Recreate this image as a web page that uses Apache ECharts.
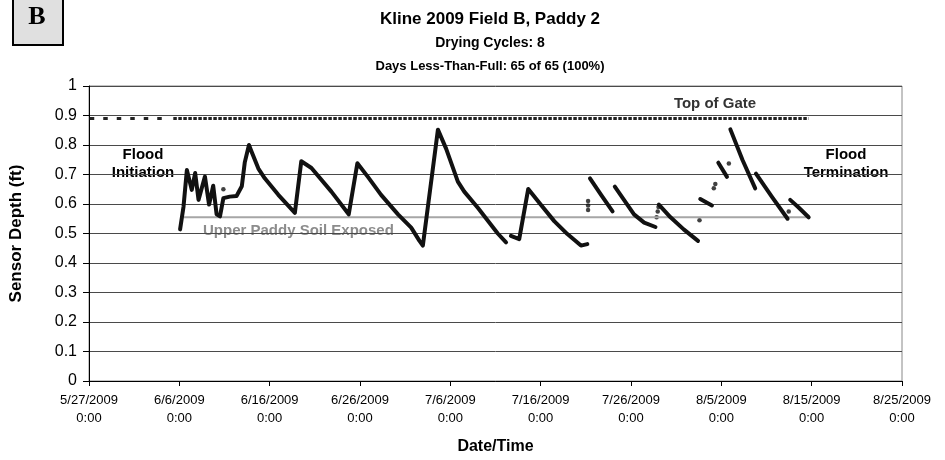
<!DOCTYPE html>
<html>
<head>
<meta charset="utf-8">
<script src="https://cdn.jsdelivr.net/npm/echarts/dist/echarts.min.js"></script>
<style>
  html, body { margin: 0; padding: 0; background: #fff; }
  #chart { width: 945px; height: 460px; }
</style>
</head>
<body>
<div id="chart"></div>
<script>
  // sensor readings (null = gap in the record)
  const sensorTimes = [
    '6/6 02:00', '6/6 11:00', '6/6 20:00', '6/7 09:00', '6/7 18:00', '6/8 03:00', '6/8 20:00',
    '6/9 07:00', '6/9 18:00', '6/10 03:00', '6/10 12:00', '6/10 21:00', '6/11 14:00', '6/12 08:00',
    '6/12 22:00', '6/13 06:00', '6/13 17:00', '6/14 00:00', '6/14 18:00', '6/15 11:00', '6/16 23:00',
    '6/18 19:00', '6/19 12:00', '6/20 15:00', '6/22 20:00', '6/24 18:00', '6/25 17:00', '6/26 21:00',
    '6/28 08:00', '6/30 05:00', '7/1 16:00', '7/2 14:00', '7/2 23:00', '7/4 15:00', '7/5 13:00',
    '7/6 20:00', '7/7 13:00', '7/9 01:00', '7/11 06:00', '7/12 04:00', '7/12 10:00', '7/12 17:00',
    '7/13 15:00', '7/14 15:00', '7/16 00:00', '7/17 12:00', '7/18 23:00', '7/20 11:00', '7/21 04:00',
    '7/21 05:00', '7/21 11:00', '7/22 17:00', '7/23 23:00', '7/24 02:00', '7/24 05:00', '7/26 08:00',
    '7/27 11:00', '7/28 17:00', '7/28 22:00', '7/29 02:00', '7/30 09:00', '7/31 20:00', '8/2 10:00',
    '8/2 13:00', '8/2 16:00', '8/3 23:00', '8/4 10:00', '8/4 16:00', '8/5 15:00', '8/5 18:00',
    '8/6 00:00', '8/7 08:00', '8/8 18:00', '8/8 19:00', '8/8 20:00', '8/10 14:00', '8/12 08:00',
    '8/12 12:00', '8/12 15:00', '8/13 12:00', '8/14 16:00'
  ];
  const sensorDepth = [
    0.514, 0.59, 0.715, 0.648, 0.705, 0.614, 0.693,
    0.598, 0.662, 0.565, 0.558, 0.62, 0.625, 0.627,
    0.66, 0.742, 0.80, 0.777, 0.72, 0.687, 0.631,
    0.57, 0.745, 0.722, 0.642, 0.565, 0.738, 0.692,
    0.631, 0.565, 0.52, 0.475, 0.459, 0.852, 0.787,
    0.676, 0.642, 0.587, 0.50, 0.47, null, 0.492,
    0.481, 0.651, 0.598, 0.542, 0.498, 0.459, 0.464,
    null, 0.687, 0.63, 0.575, null, 0.659, 0.565,
    0.537, 0.522, null, 0.598, 0.555, 0.514, 0.475,
    null, 0.617, 0.595, null, 0.74, 0.692, null,
    0.853, 0.75, 0.653, null, 0.703, 0.625, 0.55,
    null, 0.614, 0.59, 0.555
  ];
  // stray single readings
  const dotTimes = ['6/10 21:00', '7/21 06:00', '7/21 06:00', '7/21 06:00', '7/28 20:00', '7/28 23:00',
    '7/29 01:00', '8/2 14:00', '8/4 04:00', '8/4 08:00', '8/5 20:00', '8/12 11:00'];
  const dotDepth = [0.65, 0.58, 0.595, 0.61, 0.555, 0.575, 0.59, 0.545, 0.653, 0.668, 0.737, 0.575];

  const gateSparseTimes = ['5/27 02:00', '6/4 20:00'];
  const gateDenseTimes = ['6/5 08:00', '8/14 16:00'];
  const gateDepth = 0.89;
  const soilTimes = ['6/6 12:00', '8/14 12:00'];
  const soilDepth = 0.555;

  const yTicks = [0, 0.1, 0.2, 0.3, 0.4, 0.5, 0.6, 0.7, 0.8, 0.9, 1];

  const START = Date.UTC(2009, 4, 27);
  function toDay(s) {
    const [md, hm] = s.split(' ');
    const [m, d] = md.split('/').map(Number);
    const [h, mi] = hm.split(':').map(Number);
    return (Date.UTC(2009, m - 1, d, h, mi) - START) / 86400000;
  }
  function pairs(times, vals) {
    return times.map((t, i) => [toDay(t), Array.isArray(vals) ? vals[i] : vals]);
  }

  const chart = echarts.init(document.getElementById('chart'));
  const FONT = 'Liberation Sans, Arial, sans-serif';

  const option = {
    animation: false,
    textStyle: { fontFamily: FONT },
    grid: { left: 87, right: 43, top: 86, bottom: 74, show: true, borderColor: '#888', borderWidth: 1 },
    xAxis: {
      type: 'value', min: 0, max: 90, interval: 10,
      name: 'Date/Time', nameLocation: 'middle', nameGap: 58,
      nameTextStyle: { fontSize: 16, fontWeight: 'bold', color: '#000', fontFamily: FONT },
      axisLine: { lineStyle: { color: '#000', width: 1 } },
      axisTick: { length: 5, lineStyle: { color: '#000' } },
      splitLine: { show: false },
      axisLabel: {
        color: '#000', fontSize: 13, lineHeight: 18, margin: 10, fontFamily: FONT,
        formatter: v => {
          const dt = new Date(START + v * 86400000);
          return (dt.getUTCMonth() + 1) + '/' + dt.getUTCDate() + '/2009\n0:00';
        }
      }
    },
    yAxis: {
      type: 'value', min: 0, max: 1, interval: 0.1,
      name: 'Sensor Depth (ft)', nameLocation: 'middle', nameGap: 64,
      nameTextStyle: { fontSize: 17, fontWeight: 'bold', color: '#000', fontFamily: FONT },
      axisLine: { show: true, lineStyle: { color: '#000', width: 1 } },
      axisTick: { show: true, length: 6, lineStyle: { color: '#000' } },
      splitLine: { lineStyle: { color: '#4a4a4a', width: 1 } },
      axisLabel: {
        color: '#000', fontSize: 16, margin: 12, fontFamily: FONT,
        formatter: v => {
          const t = yTicks.find(k => Math.abs(k - v) < 1e-6);
          return t === 0 || t === 1 ? String(t) : t.toFixed(1);
        }
      }
    },
    series: [
      {
        type: 'line', data: pairs(gateSparseTimes, gateDepth), symbol: 'none', silent: true,
        lineStyle: { color: '#222', width: 3, type: [4.5, 9] }
      },
      {
        type: 'line', data: pairs(gateDenseTimes, gateDepth), symbol: 'none', silent: true,
        lineStyle: { color: '#222', width: 3, type: [3.5, 1.5] }
      },
      {
        type: 'line', data: pairs(soilTimes, soilDepth), symbol: 'none', silent: true,
        lineStyle: { color: '#a6a6a6', width: 2 }
      },
      {
        type: 'line', data: pairs(sensorTimes, sensorDepth), symbol: 'none', connectNulls: false,
        lineStyle: { color: '#111', width: 4, join: 'round', cap: 'round' }
      },
      {
        type: 'scatter', data: pairs(dotTimes, dotDepth), symbolSize: 4.5,
        itemStyle: { color: '#111' }
      }
    ],
    graphic: [
      { type: 'rect', left: 12, top: -3, shape: { width: 50, height: 47 },
        style: { fill: '#e0e0e0', stroke: '#000', lineWidth: 2 } },
      { type: 'text', x: 37, y: 17, style: { text: 'B', font: 'bold 26px "Liberation Serif", serif', fill: '#000', textAlign: 'center', textVerticalAlign: 'middle' } },
      { type: 'text', x: 490, y: 19, style: { text: 'Kline 2009 Field B, Paddy 2', font: 'bold 17px ' + FONT, fill: '#000', textAlign: 'center', textVerticalAlign: 'middle' } },
      { type: 'text', x: 490, y: 43, style: { text: 'Drying Cycles: 8', font: 'bold 14px ' + FONT, fill: '#000', textAlign: 'center', textVerticalAlign: 'middle' } },
      { type: 'text', x: 490, y: 66, style: { text: 'Days Less-Than-Full: 65 of 65 (100%)', font: 'bold 13px ' + FONT, fill: '#000', textAlign: 'center', textVerticalAlign: 'middle' } },
      { type: 'text', x: 715, y: 104, style: { text: 'Top of Gate', font: 'bold 15px ' + FONT, fill: '#333', textAlign: 'center', textVerticalAlign: 'middle' } },
      { type: 'text', x: 143, y: 164, style: { text: 'Flood\nInitiation', font: 'bold 15px ' + FONT, lineHeight: 18, fill: '#000', textAlign: 'center', textVerticalAlign: 'middle' } },
      { type: 'text', x: 846, y: 164, style: { text: 'Flood\nTermination', font: 'bold 15px ' + FONT, lineHeight: 18, fill: '#000', textAlign: 'center', textVerticalAlign: 'middle' } },
      { type: 'text', x: 203, y: 231, style: { text: 'Upper Paddy Soil Exposed', font: 'bold 15px ' + FONT, fill: '#8c8c8c', textAlign: 'left', textVerticalAlign: 'middle' } }
    ]
  };
  chart.setOption(option);
</script>
</body>
</html>
